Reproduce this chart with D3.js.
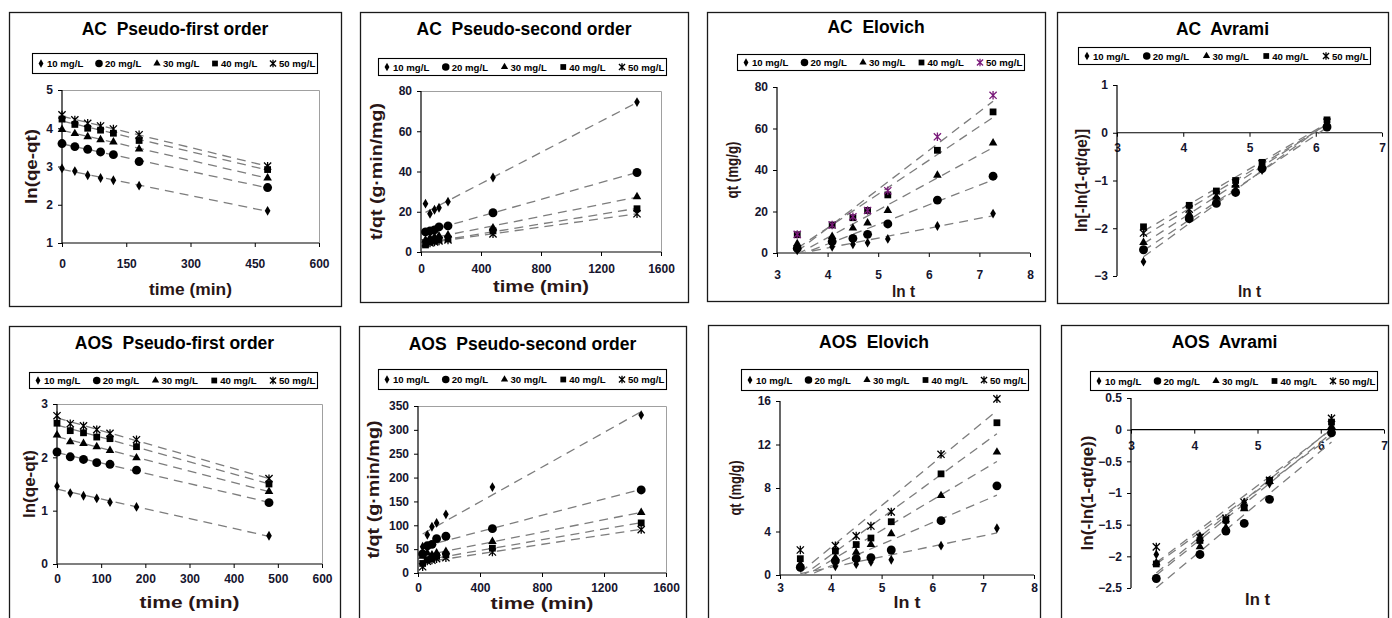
<!DOCTYPE html>
<html>
<head>
<meta charset="utf-8">
<script src="https://cdn.jsdelivr.net/npm/d3@7"></script>
<style>
  html, body { margin: 0; padding: 0; background: #fff; }
  svg { display: block; font-family: "Liberation Sans", Arial, sans-serif; }
  text { white-space: pre; }
</style>
</head>
<body>
<svg id="chart" width="1392" height="618"></svg>
<script>
// ---- Data -------------------------------------------------------------
const concLabels = ["10 mg/L", "20 mg/L", "30 mg/L", "40 mg/L", "50 mg/L"];

// contact times (min) and ln t
const tFirst = [0, 30, 60, 90, 120, 180, 480];
const tSecond = [30, 60, 90, 120, 180, 480, 1440];
const lnT = [3.40, 4.09, 4.50, 4.79, 5.19, 6.17, 7.27];
const lnTAvrami = [3.40, 4.09, 4.50, 4.79, 5.19, 6.17];

// AC sorbent
const acFirst = [
  [2.95, 2.88, 2.77, 2.70, 2.64, 2.50, 1.84],
  [3.60, 3.52, 3.45, 3.38, 3.31, 3.13, 2.45],
  [3.97, 3.86, 3.78, 3.70, 3.64, 3.46, 2.70],
  [4.24, 4.10, 4.00, 3.95, 3.87, 3.68, 2.92],
  [4.35, 4.22, 4.13, 4.06, 3.98, 3.83, 3.01]
];
const acSecond = [
  [24, 19, 21, 22, 25, 37, 74.5],
  [10, 10.5, 11, 12.5, 13, 19.5, 39.5],
  [6, 7, 7.5, 8, 8.5, 12, 27.5],
  [3.5, 5, 5.5, 6, 6.5, 10.5, 21.5],
  [4.5, 4.5, 5, 5.5, 6, 9, 19]
];
const acElovich = [
  [1.3, 3.0, 4.2, 5.0, 6.8, 13, 19],
  [2.2, 5.5, 7, 9, 14, 25.5, 37],
  [4.5, 8, 12, 14.5, 20.5, 37.5, 53],
  [8.8, 13.5, 17, 20.5, 28, 49.5, 68],
  [9, 13.5, 17.5, 20.5, 30, 56, 76]
];
const acAvrami = [
  [-2.70, -1.80, -1.45, -1.20, -0.78, 0.15],
  [-2.45, -1.80, -1.48, -1.25, -0.75, 0.12],
  [-2.30, -1.70, -1.35, -1.10, -0.70, 0.20],
  [-1.97, -1.52, -1.22, -1.00, -0.62, 0.27],
  [-2.10, -1.60, -1.30, -1.05, -0.65, 0.22]
];

// AOS sorbent
const aosFirst = [
  [1.46, 1.33, 1.28, 1.23, 1.16, 1.07, 0.53],
  [2.10, 2.01, 1.96, 1.90, 1.87, 1.76, 1.15],
  [2.42, 2.29, 2.26, 2.20, 2.13, 1.99, 1.36],
  [2.64, 2.50, 2.46, 2.38, 2.35, 2.20, 1.50],
  [2.78, 2.63, 2.59, 2.52, 2.45, 2.33, 1.60]
];
const aosSecond = [
  [55, 80, 97, 105, 123, 180, 331],
  [40, 57, 60, 72, 77, 93, 174],
  [35, 42, 38, 42, 45, 66, 127],
  [20, 28, 30, 35, 38, 52, 105],
  [13, 25, 27, 30, 32, 44, 91]
];
const aosElovich = [
  [0.7, 0.8, 1.0, 1.2, 1.4, 2.7, 4.3],
  [0.7, 1.3, 1.5, 1.6, 2.3, 5.0, 8.2],
  [1.0, 1.6, 2.1, 2.8, 3.8, 7.3, 11.3],
  [1.5, 2.2, 2.8, 3.4, 4.9, 9.3, 14.0],
  [2.3, 2.7, 3.6, 4.5, 5.8, 11.1, 16.2]
];
const aosAvrami = [
  [-1.97, -1.68, -1.45, -1.15, -0.85, 0.00],
  [-2.35, -1.97, -1.60, -1.48, -1.10, -0.05],
  [-2.10, -1.85, -1.55, -1.25, -0.82, 0.05],
  [-2.12, -1.75, -1.43, -1.22, -0.80, 0.12],
  [-1.85, -1.70, -1.40, -1.15, -0.80, 0.18]
];

// ---- Panel layout -------------------------------------------------------
const panels = [
  { frame: [9, 12, 341, 306], title: "AC  Pseudo-first order", titleY: 35,
    legend: [32, 53, 317, 73], plot: [62, 319, 90, 243],
    x: tFirst, ys: acFirst, xDomain: [0, 600], yDomain: [1, 5],
    xTicks: [0, 150, 300, 450, 600], yTicks: [1, 2, 3, 4, 5], xPad: 12.5, box: true,
    xTitle: "time (min)", xTitleY: 295, xTitleLen: 83,
    yTitle: "ln(qe-qt)", yTitleX: 37, yTitleLen: 75 },
  { frame: [360, 12, 688, 302], title: "AC  Pseudo-second order", titleY: 35,
    legend: [378, 58, 666, 75], plot: [421, 661, 91, 252],
    x: tSecond, ys: acSecond, xDomain: [0, 1600], yDomain: [0, 80],
    xTicks: [0, 400, 800, 1200, 1600], yTicks: [0, 20, 40, 60, 80], xPad: 8.5, box: true,
    xTitle: "time (min)", xTitleY: 292, xTitleLen: 96,
    yTitle: "t/qt (g\u00B7min/mg)", yTitleX: 382, yTitleLen: 137 },
  { frame: [707, 12, 1045, 301], title: "AC  Elovich", titleY: 33,
    legend: [737, 54, 1024, 70], plot: [777, 1030, 87, 253],
    x: lnT, ys: acElovich, xDomain: [3, 8], yDomain: [0, 80],
    xTicks: [3, 4, 5, 6, 7, 8], yTicks: [0, 20, 40, 60, 80], xPad: 13.5, box: false,
    xTitle: "ln t", xTitleY: 297, xTitleLen: 23,
    yTitle: "qt (mg/g)", yTitleX: 738, yTitleLen: 57,
    colors: ["#000", "#000", "#000", "#000", "#7a1a7a"] },
  { frame: [1057, 12, 1388, 303], title: "AC  Avrami", titleY: 35,
    legend: [1078, 47, 1370, 64], plot: [1117, 1382, 85, 276],
    x: lnTAvrami, ys: acAvrami, xDomain: [3, 7], yDomain: [-3, 1],
    xTicks: [3, 4, 5, 6, 7], yTicks: [-3, -2, -1, 0, 1], xPad: 6.5, box: false, xAtZero: true,
    xTitle: "ln t", xTitleY: 297, xTitleLen: 23,
    yTitle: "ln[-ln(1-qt/qe)]", yTitleX: 1087, yTitleLen: 103 },
  { frame: [9, 326, 340, 640], title: "AOS  Pseudo-first order", titleY: 349,
    legend: [29, 372, 317, 388], plot: [57, 322, 404, 564],
    x: tFirst, ys: aosFirst, xDomain: [0, 600], yDomain: [0, 3],
    xTicks: [0, 100, 200, 300, 400, 500, 600], yTicks: [0, 1, 2, 3], xPad: 6.5, box: true,
    xTitle: "time (min)", xTitleY: 608, xTitleLen: 100,
    yTitle: "ln(qe-qt)", yTitleX: 35, yTitleLen: 68 },
  { frame: [359, 326, 686, 640], title: "AOS  Pseudo-second order", titleY: 350,
    legend: [378, 369, 666, 389], plot: [418, 666, 406, 573],
    x: tSecond, ys: aosSecond, xDomain: [0, 1600], yDomain: [0, 350],
    xTicks: [0, 400, 800, 1200, 1600], yTicks: [0, 50, 100, 150, 200, 250, 300, 350], xPad: 6.5, box: true,
    xTitle: "time (min)", xTitleY: 609, xTitleLen: 103,
    yTitle: "t/qt (g\u00B7min/mg)", yTitleX: 379, yTitleLen: 138 },
  { frame: [708, 325, 1040, 640], title: "AOS  Elovich", titleY: 348,
    legend: [741, 369, 1028, 390], plot: [780, 1034, 401, 575],
    x: lnT, ys: aosElovich, xDomain: [3, 8], yDomain: [0, 16],
    xTicks: [3, 4, 5, 6, 7, 8], yTicks: [0, 4, 8, 12, 16], xPad: 4.5, box: false,
    xTitle: "ln t", xTitleY: 608, xTitleLen: 27,
    yTitle: "qt (mg/g)", yTitleX: 741, yTitleLen: 55 },
  { frame: [1061, 325, 1388, 640], title: "AOS  Avrami", titleY: 348,
    legend: [1090, 371, 1377, 390], plot: [1131, 1384, 398, 588],
    x: lnTAvrami, ys: aosAvrami, xDomain: [3, 7], yDomain: [-2.5, 0.5],
    xTicks: [3, 4, 5, 6, 7], yTicks: [-2.5, -2, -1.5, -1, -0.5, 0, 0.5], xPad: 7.5, box: false, xAtZero: true,
    xTitle: "ln t", xTitleY: 605, xTitleLen: 25,
    yTitle: "ln(-ln(1-qt/qe))", yTitleX: 1093, yTitleLen: 115 }
];

// ---- Helpers ----------------------------------------------------------
const svg = d3.select("#chart");
svg.append("rect").attr("width", 1392).attr("height", 618).attr("fill", "#fff");

const TICK_COLOR = "#15152e";
const AXIS_TITLE_COLOR = "#2a1616";

function linearFit(xs, ys) {
  const mx = d3.mean(xs), my = d3.mean(ys);
  let sxy = 0, sxx = 0;
  xs.forEach((x, i) => { sxy += (x - mx) * (ys[i] - my); sxx += (x - mx) * (x - mx); });
  const slope = sxy / sxx;
  return { slope, intercept: my - slope * mx };
}

// marker glyphs: diamond, circle, triangle, square, asterisk
function drawMarker(g, kind, x, y, color, scale = 1) {
  const sym = [d3.symbolDiamond, d3.symbolCircle, d3.symbolTriangle, d3.symbolSquare];
  const sizes = [28, 62, 32, 46];
  if (kind < 4) {
    g.append("path")
      .attr("d", d3.symbol().type(sym[kind]).size(sizes[kind] * scale * scale)())
      .attr("transform", `translate(${x},${y})`)
      .attr("fill", color);
  } else {
    const s = 3.6 * scale;
    g.append("path")
      .attr("d", `M${-s},${-s}L${s},${s}M${-s},${s}L${s},${-s}M0,${-s - 0.6}L0,${s + 0.6}`)
      .attr("transform", `translate(${x},${y})`)
      .attr("stroke", color).attr("stroke-width", 1.3).attr("fill", "none");
  }
}

panels.forEach((p, pi) => {
  const g = svg.append("g");
  const [fx0, fy0, fx1, fy1] = p.frame;
  const [px0, px1, py0, py1] = p.plot;
  const colors = p.colors || ["#000", "#000", "#000", "#000", "#000"];

  // outer frame
  g.append("rect")
    .attr("x", fx0 + 0.5).attr("y", fy0 + 0.5)
    .attr("width", fx1 - fx0).attr("height", fy1 - fy0)
    .attr("fill", "#fff").attr("stroke", "#1a1a1a").attr("stroke-width", 1.3);

  // title
  g.append("text")
    .attr("x", (fx0 + fx1) / 2).attr("y", p.titleY)
    .attr("text-anchor", "middle")
    .attr("font-size", 17.5).attr("font-weight", "bold").attr("fill", "#000")
    .text(p.title);

  // legend
  const [lx0, ly0, lx1, ly1] = p.legend;
  g.append("rect")
    .attr("x", lx0 + 0.5).attr("y", ly0 + 0.5)
    .attr("width", lx1 - lx0).attr("height", ly1 - ly0)
    .attr("fill", "#fff").attr("stroke", "#000").attr("stroke-width", 1.1);
  const step = (lx1 - lx0 - 53) / 4;
  const lcy = (ly0 + ly1) / 2 + 0.5;
  concLabels.forEach((lab, i) => {
    const mx = lx0 + 9 + i * step;
    drawMarker(g, i, mx, lcy, colors[i], 0.85);
    g.append("text")
      .attr("x", mx + 6).attr("y", lcy + 3.5)
      .attr("font-size", 9.6).attr("font-weight", "bold").attr("fill", "#000")
      .text(lab);
  });

  // scales
  const xs = d3.scaleLinear().domain(p.xDomain).range([px0, px1]);
  const ys = d3.scaleLinear().domain(p.yDomain).range([py1, py0]);

  // plot-area box (top and right edges)
  if (p.box) {
    g.append("path")
      .attr("d", `M${px0},${py0 + 0.5}H${px1 + 0.5}V${py1}`)
      .attr("fill", "none").attr("stroke", "#a0a0a0").attr("stroke-width", 1);
  }

  // clip for trend lines
  const clipId = `clip-${pi}`;
  g.append("clipPath").attr("id", clipId)
    .append("rect").attr("x", px0).attr("y", py0)
    .attr("width", px1 - px0).attr("height", py1 - py0);

  // axes
  const xAxisY = p.xAtZero ? ys(0) : py1;
  const xAxis = g.append("g").attr("transform", `translate(0,${xAxisY})`)
    .call(d3.axisBottom(xs).tickValues(p.xTicks).tickSize(4).tickSizeOuter(0)
      .tickPadding(p.xPad).tickFormat(d3.format("")));
  const yAxis = g.append("g").attr("transform", `translate(${px0},0)`)
    .call(d3.axisLeft(ys).tickValues(p.yTicks).tickSize(4).tickSizeOuter(0)
      .tickPadding(5).tickFormat(d => d3.format("")(d)));
  [xAxis, yAxis].forEach(a => {
    a.select(".domain").attr("stroke", "#000").attr("stroke-width", 1.2);
    a.selectAll(".tick line").attr("stroke", "#000").attr("stroke-width", 1);
    a.selectAll(".tick text")
      .attr("font-size", 12).attr("font-weight", "bold").attr("fill", TICK_COLOR)
      .attr("font-family", "Liberation Sans, Arial, sans-serif");
  });
  // x domain should span the full plot width
  xAxis.select(".domain").attr("d", `M${px0},0H${px1}`);
  yAxis.select(".domain").attr("d", `M0,${py1}V${py0}`);

  // trend lines
  const lines = g.append("g").attr("clip-path", `url(#${clipId})`);
  p.ys.forEach((vals, si) => {
    const fit = linearFit(p.x, vals);
    const x0 = d3.min(p.x), x1 = d3.max(p.x);
    lines.append("line")
      .attr("x1", xs(x0)).attr("y1", ys(fit.slope * x0 + fit.intercept))
      .attr("x2", xs(x1)).attr("y2", ys(fit.slope * x1 + fit.intercept))
      .attr("stroke", "#7d7d7d").attr("stroke-width", 1.3)
      .attr("stroke-dasharray", "9,6");
  });

  // data markers
  const marks = g.append("g");
  p.ys.forEach((vals, si) => {
    vals.forEach((v, j) => drawMarker(marks, si, xs(p.x[j]), ys(v), colors[si], 1));
  });

  // axis titles
  g.append("text")
    .attr("x", (px0 + px1) / 2 + (p.xAtZero ? 0 : 0)).attr("y", p.xTitleY)
    .attr("text-anchor", "middle")
    .attr("font-size", 17).attr("font-weight", "bold").attr("fill", AXIS_TITLE_COLOR)
    .attr("textLength", p.xTitleLen).attr("lengthAdjust", "spacingAndGlyphs")
    .text(p.xTitle);
  g.append("text")
    .attr("transform", `translate(${p.yTitleX},${(py0 + py1) / 2}) rotate(-90)`)
    .attr("text-anchor", "middle")
    .attr("font-size", 16).attr("font-weight", "bold").attr("fill", AXIS_TITLE_COLOR)
    .attr("textLength", p.yTitleLen).attr("lengthAdjust", "spacingAndGlyphs")
    .text(p.yTitle);
});
</script>
</body>
</html>
